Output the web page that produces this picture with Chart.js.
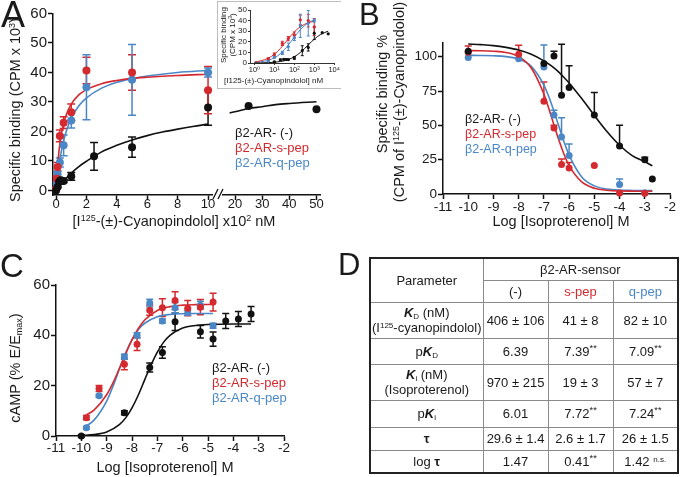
<!DOCTYPE html>
<html>
<head>
<meta charset="utf-8">
<script src="https://cdn.jsdelivr.net/npm/chart.js@4.4.0/dist/chart.umd.min.js"></script>
<style>
body { margin: 0; background: #fff; }
#page { position: relative; width: 680px; height: 477px; overflow: hidden;
        font-family: 'Liberation Sans', Arial, 'DejaVu Sans', sans-serif; color: #1a1a1a; }
canvas { position: absolute; }
.t { position: absolute; white-space: nowrap; }
.rot { position: absolute; white-space: nowrap; transform: translate(-50%, -50%) rotate(-90deg); }
.ctr { position: absolute; white-space: nowrap; transform: translate(-50%, -50%); }
sup { font-size: 62%; vertical-align: 0.55em; line-height: 0; }
sub { font-size: 62%; vertical-align: -0.25em; line-height: 0; }
.letter { position: absolute; line-height: 1; }
.leg { position: absolute; font-size: 13px; line-height: 15px; white-space: nowrap; }
.red { color: #d42a2f; }
.blue { color: #4a87c6; }
#inset { position: absolute; left: 217px; top: 1px; width: 123px; height: 86px;
         border: 1px solid #bdbdbd; border-right: none; background: #fff; }
#tbl { position: absolute; left: 369px; top: 257px; width: 308px; height: 215px;
       border-collapse: collapse; border: 2px solid #222; table-layout: fixed;
       font-size: 13px; text-align: center; }
#tbl td { border: 1px solid #8a8a8a; padding: 0; line-height: 15px; }
#tbl .k { font-weight: bold; font-style: italic; }
#tbl sup.s { font-size: 72%; }
</style>
</head>
<body>
<div id="page">
  <canvas id="chartA" width="340" height="240" style="left:0;top:0"></canvas>
  <canvas id="chartB" width="340" height="240" style="left:340px;top:0"></canvas>
  <canvas id="chartC" width="340" height="237" style="left:0;top:240px"></canvas>

  <div id="inset"><canvas id="chartInset" width="122" height="85" style="left:0;top:0"></canvas></div>
  <div class="rot" style="left:223px;top:35px;font-size:8px">Specific binding</div>
  <div class="rot" style="left:232px;top:35px;font-size:8px">(CPM x 10<sup>3</sup>)</div>
  <div class="t" style="left:224px;top:76px;font-size:8px">[I125-(±)-Cyanopindolol] nM</div>

  <div class="letter" style="left:1px;top:-3px;font-size:36px">A</div>
  <div class="letter" style="left:359px;top:-1px;font-size:31px">B</div>
  <div class="letter" style="left:0px;top:249px;font-size:33px">C</div>
  <div class="letter" style="left:338px;top:249px;font-size:31px">D</div>

  <div class="rot" style="left:15px;top:110px;font-size:14.5px">Specific binding (CPM x 10<sup>3</sup>)</div>
  <div class="ctr" style="left:174px;top:221px;font-size:14.5px">[I<sup>125</sup>-(±)-Cyanopindolol] x10<sup>2</sup> nM</div>
  <div class="leg" style="left:235px;top:125px">β2-AR- (-)<br><span class="red">β2-AR-s-pep</span><br><span class="blue">β2-AR-q-pep</span></div>

  <div class="rot" style="left:382px;top:94px;font-size:14.5px">Specific binding %</div>
  <div class="rot" style="left:399px;top:102px;font-size:14.5px">(CPM of I<sup>125</sup>-(±)-Cyanopindolol)</div>
  <div class="ctr" style="left:561px;top:221px;font-size:14.5px">Log [Isoproterenol] M</div>
  <div class="leg" style="left:465px;top:112px;font-size:12.5px">β2-AR- (-)<br><span class="red">β2-AR-s-pep</span><br><span class="blue">β2-AR-q-pep</span></div>

  <div class="rot" style="left:15px;top:368px;font-size:14.5px">cAMP (% E/E<sub>max</sub>)</div>
  <div class="ctr" style="left:165px;top:467px;font-size:14.5px">Log [Isoproterenol] M</div>
  <div class="leg" style="left:212px;top:360px">β2-AR- (-)<br><span class="red">β2-AR-s-pep</span><br><span class="blue">β2-AR-q-pep</span></div>

  <table id="tbl">
    <colgroup><col style="width:113px"><col style="width:65px"><col style="width:65px"><col style="width:65px"></colgroup>
    <tr style="height:22px"><td rowspan="2">Parameter</td><td colspan="3">β2-AR-sensor</td></tr>
    <tr style="height:22px"><td>(-)</td><td class="red">s-pep</td><td class="blue">q-pep</td></tr>
    <tr style="height:36px"><td><span class="k">K</span><sub>D</sub> (nM)<br>(I<sup>125</sup>-cyanopindolol)</td><td>406 ± 106</td><td>41 ± 8</td><td>82 ± 10</td></tr>
    <tr style="height:26px"><td>p<span class="k">K</span><sub>D</sub></td><td>6.39</td><td>7.39<sup class="s">**</sup></td><td>7.09<sup class="s">**</sup></td></tr>
    <tr style="height:36px"><td><span class="k">K</span><sub>i</sub> (nM)<br>(Isoproterenol)</td><td>970 ± 215</td><td>19 ± 3</td><td>57 ± 7</td></tr>
    <tr style="height:27px"><td>p<span class="k">K</span><sub>i</sub></td><td>6.01</td><td>7.72<sup class="s">**</sup></td><td>7.24<sup class="s">**</sup></td></tr>
    <tr style="height:23px"><td><b>τ</b></td><td>29.6 ± 1.4</td><td>2.6 ± 1.7</td><td>26 ± 1.5</td></tr>
    <tr style="height:23px"><td>log <b>τ</b></td><td>1.47</td><td>0.41<sup class="s">**</sup></td><td>1.42 <sup>n.s.</sup></td></tr>
  </table>
</div>

<script>
const RED = '#d42a2f';
const BLUE = '#4a87c6';
const BLACK = '#111111';

// ---- A: saturation binding, x in units of 10^2 nM ----
const aBlackX = [0, 0.1, 0.2, 0.3, 0.4, 0.5, 1, 2.5, 5, 10];
const aBlackY = [0, 1.2, 3.0, 3.5, 3.3, 3.2, 4.8, 11.6, 14.7, 28.1];
const aBlackErr = [0, 0.3, 0.8, 0.6, 0.6, 0.5, 1.3, 4.7, 3.4, 6];
const aBlackX2 = [25, 50];
const aBlackY2 = [28.6, 27.5];
const aRedX = [0, 0.05, 0.1, 0.25, 0.5, 1, 2, 5, 10];
const aRedY = [0.5, 4.0, 8.0, 18.5, 23.0, 26.5, 40.7, 40.0, 34.0];
const aRedErr = [0.3, 1.0, 1.5, 2.0, 2.0, 2.8, 4.5, 6.0, 8.0];
const aBlueX = [0.05, 0.1, 0.25, 0.5, 1, 2, 5, 10];
const aBlueY = [2.0, 5.5, 9.5, 15.3, 23.7, 35.0, 37.5, 40.0];
const aBlueErr = [0.8, 1.0, 1.5, 3.5, 2.5, 11, 12, 1.5];
// fitted curves
const aCurveX = [0, 0.1, 0.2, 0.3, 0.5, 0.75, 1, 1.5, 2, 3, 4, 5, 6, 8, 10];
const aRedCurve = [0, 8.2, 13.7, 17.6, 22.8, 26.7, 29.3, 32.4, 34.2, 36.2, 37.3, 38.0, 38.4, 39.0, 39.4];
const aBlueCurve = [0, 4.9, 8.8, 12.0, 16.9, 21.3, 24.4, 28.7, 31.4, 34.7, 36.7, 37.9, 38.8, 40.0, 40.7];
const aBlackCurveX = [0, 0.25, 0.5, 1, 1.5, 2, 3, 4, 5, 6, 7, 8, 9, 10];
const aBlackCurve = [0, 1.7, 3.2, 5.9, 8.1, 9.9, 13.1, 15.3, 17.1, 18.6, 19.8, 20.8, 21.7, 22.5];
const aBlackCurveX2 = [18, 20, 25, 30, 35, 40, 50];
const aBlackCurve2 = [26.3, 26.7, 27.8, 28.4, 29.1, 29.5, 30.1];
const aYTicks = [0, 10, 20, 30, 40, 50, 60];
const aXTicks = [0, 2, 4, 6, 8, 10];
const aXTicks2 = [20, 30, 40, 50];

// ---- A inset, log x in nM ----
const insCurveX = [1, 2, 5, 10, 20, 50, 100, 200, 500, 1000];
const insRedCurve = [1.0, 2.0, 4.6, 8.2, 13.7, 22.8, 29.3, 34.2, 38.0, 39.4];
const insBlueCurve = [0.5, 1.1, 2.6, 4.9, 8.8, 16.9, 24.4, 31.4, 37.9, 40.7];
const insBlackCurveX = [1, 2, 5, 10, 20, 50, 100, 200, 500, 1000, 2000, 5000];
const insBlackCurve = [0.07, 0.14, 0.35, 0.7, 1.4, 3.2, 5.9, 9.9, 17.1, 22.5, 26.7, 30.1];
const insXTicks = [1, 10, 100, 1000, 10000];
const insXLabels = ['10⁰', '10¹', '10²', '10³', '10⁴'];
const insYTicks = [0, 10, 20, 30, 40, 50];

// ---- B: competition binding ----
const bBlackX = [-10, -7, -6.6, -6.3, -6, -5, -4, -3, -2.7];
const bBlackY = [104, 95, 100.5, 72, 77.5, 57.5, 35, 25, 11];
const bBlackErrUp = [0, 0, 3.5, 37, 16, 16.5, 15, 1.7, 0];
const bRedX = [-10, -8, -7, -6.6, -6.3, -6, -5, -4, -3];
const bRedY = [103.3, 101.8, 67.5, 48, 21.5, 19, 20.7, 0.8, 0.5];
const bRedErrUp = [4.5, 6.5, 14, 2, 4, 4, 0, 0, 0];
const bBlueX = [-10, -8, -7, -6.6, -6.3, -6, -4, -3];
const bBlueY = [99.5, 98.5, 92.5, 57.5, 41.5, 28, 7, 0.8];
const bBlueErrUp = [0, 0, 16, 3.5, 14, 8.5, 4, 0];
const bCurveX = [-10, -9.5, -9, -8.5, -8, -7.5, -7, -6.8, -6.6, -6.4, -6.2, -6, -5.5, -5, -4.5, -4, -3.5, -3, -2.7];
const bBlackCurve = [109.3, 108.8, 108.1, 106.8, 104.9, 101.8, 97.0, 94.6, 91.8, 88.6, 84.9, 80.9, 69.5, 57.2, 45.5, 35.5, 28.0, 23.5, 20.5];
const bRedCurve = [104.5, 104.4, 104.0, 103.1, 100.1, 91.8, 72.8, 62.0, 50.3, 38.9, 28.8, 20.7, 8.8, 4.2, 2.7, 2.2, 2.1, 2.0, 2.0];
const bBlueCurve = [101.0, 100.9, 100.7, 100.1, 98.3, 93.0, 79.3, 70.6, 60.2, 48.9, 37.9, 28.3, 12.4, 5.9, 3.6, 2.8, 2.6, 2.5, 2.5];
const bYTicks = [0, 25, 50, 75, 100];
const logTicks = [-11, -10, -9, -8, -7, -6, -5, -4, -3, -2];

// ---- C: cAMP response ----
const cBlackX = [-10, -8.3, -7.3, -6.8, -6.3, -5.3, -4.8, -4.3, -3.8, -3.3];
const cBlackY = [0, 9.2, 27.2, 33.2, 45.4, 41.4, 38.5, 45.7, 46.5, 48.5];
const cBlackErr = [0.5, 0.8, 1.8, 2.3, 3.5, 2.5, 2.8, 3.0, 3.0, 3.0];
const cRedX = [-9.8, -9.3, -8.3, -7.8, -7.3, -6.8, -6.3, -5.8, -5.3, -4.8];
const cRedY = [7.3, 18.9, 28.5, 36.5, 50.0, 51.0, 53.8, 50.8, 51.2, 53.2];
const cRedErr = [0.8, 1.2, 2.2, 2.5, 2.0, 3.5, 3.5, 3.0, 3.0, 3.5];
const cBlueX = [-9.8, -9.3, -8.3, -7.8, -7.3, -6.8, -6.3, -5.8, -5.3, -4.8];
const cBlueY = [3.3, 16.0, 31.5, 40.0, 52.8, 45.7, 51.0, 49.0, 52.0, 43.8];
const cBlueErr = [0.5, 0.5, 1.0, 1.0, 1.5, 0.8, 2.0, 1.0, 1.5, 1.0];
const cBlackCurveX = [-10, -9.5, -9, -8.5, -8.25, -8, -7.75, -7.5, -7.25, -7, -6.75, -6.5, -6, -5.5, -5, -4, -3.3];
const cBlackCurve = [0.2, 0.55, 1.6, 4.5, 7.2, 11.2, 16.3, 22.3, 28.2, 33.3, 37.3, 40.0, 42.9, 43.9, 44.3, 44.5, 44.5];
const cCurveX = [-9.8, -9.5, -9, -8.75, -8.5, -8.25, -8, -7.75, -7.5, -7, -6.5, -6, -5.5, -4.8];
const cRedCurve = [8.4, 10.3, 16.4, 21.1, 26.8, 32.7, 38.2, 42.7, 46.1, 49.9, 51.4, 52.0, 52.2, 52.3];
const cBlueCurve = [4.0, 6.3, 13.9, 19.8, 26.5, 33.0, 38.3, 42.3, 44.8, 47.4, 48.3, 48.6, 48.7, 48.7];
const cYTicks = [0, 20, 40, 60];

Chart.defaults.font.family = "'Liberation Sans', Arial, 'DejaVu Sans', sans-serif";
Chart.defaults.color = '#1a1a1a';

function pts(xs, ys) {
  return xs.map((x, i) => ({ x: x, y: ys[i] }));
}

function dots(xs, ys, color, opts) {
  return Object.assign({
    data: pts(xs, ys), backgroundColor: color, borderColor: color,
    pointRadius: 3.5, pointBorderWidth: 0, showLine: false, clip: false
  }, opts || {});
}

function curve(xs, ys, color, opts) {
  return Object.assign({
    data: pts(xs, ys), borderColor: color, borderWidth: 1.6, pointRadius: 0,
    showLine: true, cubicInterpolationMode: 'monotone', clip: false
  }, opts || {});
}

// vertical error bars, from errUp / errDown arrays on each dataset
const errorBars = {
  id: 'errorBars',
  beforeDatasetsDraw(chart) {
    const ctx = chart.ctx;
    chart.data.datasets.forEach((ds, i) => {
      if (!ds.errUp && !ds.errDown) return;
      const meta = chart.getDatasetMeta(i);
      const xs = chart.scales[meta.xAxisID];
      const ys = chart.scales[meta.yAxisID];
      const cap = ds.capW || 4;
      ctx.save();
      ctx.strokeStyle = ds.borderColor;
      ctx.lineWidth = ds.errLine || 1.5;
      ds.data.forEach((p, j) => {
        const up = ds.errUp ? ds.errUp[j] : 0;
        const dn = ds.errDown ? ds.errDown[j] : 0;
        if (!up && !dn) return;
        const px = xs.getPixelForValue(p.x);
        const yt = ys.getPixelForValue(p.y + up);
        const yb = ys.getPixelForValue(p.y - dn);
        ctx.beginPath();
        ctx.moveTo(px, yt); ctx.lineTo(px, yb);
        if (up) { ctx.moveTo(px - cap, yt); ctx.lineTo(px + cap, yt); }
        if (dn) { ctx.moveTo(px - cap, yb); ctx.lineTo(px + cap, yb); }
        ctx.stroke();
      });
      ctx.restore();
    });
  }
};

// the "//" marks between the two x-axis segments of panel A
const axisBreak = {
  id: 'axisBreak',
  afterDraw(chart) {
    const ctx = chart.ctx;
    const x0 = chart.scales.x.right;
    const y = chart.chartArea.bottom;
    ctx.save();
    ctx.strokeStyle = BLACK;
    ctx.lineWidth = 1.3;
    ctx.beginPath();
    ctx.moveTo(x0 + 1, y + 4); ctx.lineTo(x0 + 6, y - 6);
    ctx.moveTo(x0 + 6, y + 4); ctx.lineTo(x0 + 11, y - 6);
    ctx.stroke();
    ctx.restore();
  }
};

function yAxis(min, max, ticks, width, size, extra) {
  return Object.assign({
    min: min, max: max,
    afterBuildTicks: s => { s.ticks = ticks.map(v => ({ value: v })); },
    afterFit: s => { s.width = width; },
    grid: { drawOnChartArea: false, drawTicks: true, tickLength: 5, tickWidth: 1.5, tickColor: BLACK },
    border: { color: BLACK, width: 1.5 },
    ticks: { font: { size: size }, padding: 1, autoSkip: false }
  }, extra || {});
}

function xAxis(min, max, ticks, height, size, extra) {
  return Object.assign({
    type: 'linear', position: 'bottom', min: min, max: max,
    afterBuildTicks: s => { s.ticks = ticks.map(v => ({ value: v })); },
    afterFit: s => { s.height = height; },
    grid: { drawOnChartArea: false, drawTicks: true, tickLength: 5, tickWidth: 1.5, tickColor: BLACK },
    border: { color: BLACK, width: 1.5 },
    ticks: { font: { size: size }, padding: -3, autoSkip: false, maxRotation: 0 }
  }, extra || {});
}

const baseOptions = {
  responsive: false, animation: false,
  plugins: { legend: { display: false }, tooltip: { enabled: false } }
};

// ---- Panel A ----
new Chart(document.getElementById('chartA'), {
  type: 'scatter',
  data: {
    datasets: [
      dots(aBlackX, aBlackY, BLACK, { errUp: aBlackErr, errDown: aBlackErr, pointRadius: 4 }),
      dots(aBlackX2, aBlackY2, BLACK, { xAxisID: 'x2', pointRadius: 4 }),
      dots(aRedX, aRedY, RED, { errUp: aRedErr, errDown: aRedErr, pointRadius: 4 }),
      dots(aBlueX, aBlueY, BLUE, { errUp: aBlueErr, errDown: aBlueErr, pointRadius: 4 }),
      curve(aBlackCurveX, aBlackCurve, BLACK),
      curve(aBlackCurveX2, aBlackCurve2, BLACK, { xAxisID: 'x2' }),
      curve(aCurveX, aRedCurve, RED),
      curve(aCurveX, aBlueCurve, BLUE)
    ]
  },
  options: Object.assign({}, baseOptions, {
    layout: { padding: { left: 0, right: 20, top: 13.5, bottom: 20 } },
    scales: {
      y: yAxis(-1.53, 60, aYTicks, 53, 15),
      x: xAxis(-0.2, 10.26, aXTicks, 25, 13, { stack: 'xs', stackWeight: 159 }),
      xgap: { type: 'linear', position: 'bottom', min: 0, max: 1, stack: 'xs', stackWeight: 11,
              afterFit: s => { s.height = 25; },
              grid: { display: false }, border: { display: false }, ticks: { display: false } },
      x2: xAxis(15.58, 51.29, aXTicks2, 25, 13, { stack: 'xs', stackWeight: 97 })
    }
  }),
  plugins: [errorBars, axisBreak]
});

// ---- Panel A inset (same points, x in nM on a log axis) ----
function nM(xs) { return xs.map(v => v * 100); }
const insetDots = (xs, ys, err, color) => {
  const keep = xs.map((x, i) => i).filter(i => xs[i] > 0);
  return dots(keep.map(i => xs[i] * 100), keep.map(i => ys[i]), color, {
    pointRadius: 1.6, errUp: keep.map(i => err[i]), errDown: keep.map(i => err[i]), capW: 1.5, errLine: 1
  });
};
new Chart(document.getElementById('chartInset'), {
  type: 'scatter',
  data: {
    datasets: [
      insetDots(aBlackX, aBlackY, aBlackErr, BLACK),
      dots(nM(aBlackX2), aBlackY2, BLACK, { pointRadius: 1.6 }),
      insetDots(aRedX, aRedY, aRedErr, RED),
      insetDots(aBlueX, aBlueY, aBlueErr, BLUE),
      curve(insBlackCurveX, insBlackCurve, BLACK, { borderWidth: 1 }),
      curve(insCurveX, insRedCurve, RED, { borderWidth: 1 }),
      curve(insCurveX, insBlueCurve, BLUE, { borderWidth: 1 })
    ]
  },
  options: Object.assign({}, baseOptions, {
    layout: { padding: { left: 0, right: 5, top: 8, bottom: 12 } },
    scales: {
      y: yAxis(0, 50, insYTicks, 32, 8, {
        grid: { drawOnChartArea: false, drawTicks: true, tickLength: 2, tickWidth: 1, tickColor: '#333' },
        border: { color: '#333', width: 1 },
        ticks: { font: { size: 8 }, padding: 1, autoSkip: false }
      }),
      x: {
        type: 'logarithmic', position: 'bottom', min: 0.612, max: 10000,
        afterBuildTicks: s => { s.ticks = insXTicks.map(v => ({ value: v })); },
        afterFit: s => { s.height = 12; },
        grid: { drawOnChartArea: false, drawTicks: true, tickLength: 2, tickWidth: 1, tickColor: '#333' },
        border: { color: '#333', width: 1 },
        ticks: { font: { size: 7.5 }, padding: 0, autoSkip: false, maxRotation: 0,
                 callback: v => insXLabels[insXTicks.indexOf(v)] }
      }
    }
  }),
  plugins: [errorBars]
});

// ---- Panel B ----
new Chart(document.getElementById('chartB'), {
  type: 'scatter',
  data: {
    datasets: [
      dots(bBlackX, bBlackY, BLACK, { errUp: bBlackErrUp, capW: 3.5 }),
      dots(bRedX, bRedY, RED, { errUp: bRedErrUp, capW: 3.5 }),
      dots(bBlueX, bBlueY, BLUE, { errUp: bBlueErrUp, capW: 3.5 }),
      curve(bCurveX, bBlackCurve, BLACK),
      curve(bCurveX, bRedCurve, RED),
      curve(bCurveX, bBlueCurve, BLUE)
    ]
  },
  options: Object.assign({}, baseOptions, {
    layout: { padding: { left: 0, right: 10, top: 43, bottom: 21 } },
    scales: {
      y: yAxis(0, 110, bYTicks, 103, 13.5),
      x: xAxis(-11, -2, logTicks, 25, 13.5, {
        ticks: { font: { size: 13.5 }, padding: 0, autoSkip: false, maxRotation: 0 }
      })
    }
  }),
  plugins: [errorBars]
});

// ---- Panel C ----
new Chart(document.getElementById('chartC'), {
  type: 'scatter',
  data: {
    datasets: [
      dots(cBlackX, cBlackY, BLACK, { errUp: cBlackErr, errDown: cBlackErr, capW: 3.5 }),
      dots(cRedX, cRedY, RED, { errUp: cRedErr, errDown: cRedErr, capW: 3.5 }),
      dots(cBlueX, cBlueY, BLUE, { errUp: cBlueErr, errDown: cBlueErr, capW: 3.5 }),
      curve(cBlackCurveX, cBlackCurve, BLACK),
      curve(cCurveX, cRedCurve, RED),
      curve(cCurveX, cBlueCurve, BLUE)
    ]
  },
  options: Object.assign({}, baseOptions, {
    layout: { padding: { left: 0, right: 56, top: 45, bottom: 16 } },
    scales: {
      y: yAxis(0, 60, cYTicks, 56, 15),
      x: xAxis(-11, -2, logTicks, 25, 13.5, {
        ticks: { font: { size: 13.5 }, padding: -1, autoSkip: false, maxRotation: 0 }
      })
    }
  }),
  plugins: [errorBars]
});
</script>
</body>
</html>
